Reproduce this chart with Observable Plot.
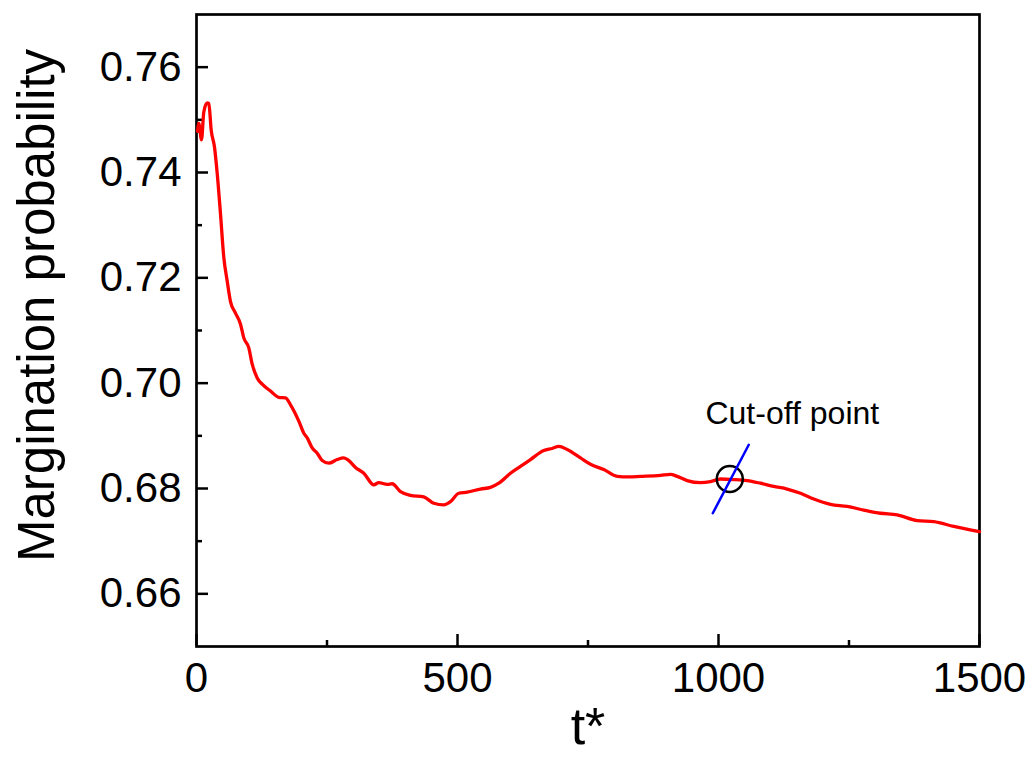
<!DOCTYPE html>
<html>
<head>
<meta charset="utf-8">
<script src="https://cdn.jsdelivr.net/npm/d3@7"></script>
<script src="https://cdn.jsdelivr.net/npm/@observablehq/plot@0.6"></script>
<style>
  html, body { margin: 0; padding: 0; background: #fff; }
  svg { display: block; }
</style>
</head>
<body>
<div id="chart"></div>
<script>
// ---- data ----
const tValues = [2, 4.4, 9.6, 14, 20.5, 23.6, 28.2, 34.5, 39.7, 46, 52.3, 58.8, 65.1, 74.7, 84.3, 90.6, 100.2, 106.7, 116.3, 125.9, 141.8, 157.7, 170.5, 180.1, 196, 205.6, 212.1, 221.6, 231.2, 240.8, 253.4, 269.5, 282.2, 291.8, 304.6, 320.5, 339.7, 349.2, 365.3, 374.9, 390.8, 410, 435.4, 454.6, 473.7, 486.6, 502.5, 518.6, 544.1, 563.2, 579.1, 601.5, 620.7, 639.8, 665.3, 681.4, 694, 710.2, 735.6, 754.8, 780.3, 805.9, 827.6, 850.6, 888.9, 908, 920.9, 940, 965.5, 984.7, 1003.8, 1029.3, 1054.9, 1080.4, 1105.9, 1131.6, 1157.1, 1182.6, 1214.5, 1246.5, 1278.3, 1310.3, 1342.3, 1380.6, 1412.4, 1450.7, 1500];
const probValues = [0.7478, 0.7493, 0.7462, 0.7515, 0.7532, 0.7531, 0.7480, 0.7448, 0.7398, 0.7321, 0.7239, 0.7194, 0.7155, 0.7133, 0.7112, 0.7086, 0.7067, 0.7036, 0.7010, 0.6998, 0.6985, 0.6973, 0.6972, 0.6959, 0.6928, 0.6905, 0.6896, 0.6877, 0.6867, 0.6853, 0.6848, 0.6855, 0.6858, 0.6853, 0.6840, 0.6829, 0.6807, 0.6811, 0.6808, 0.6809, 0.6794, 0.6787, 0.6784, 0.6772, 0.6769, 0.6775, 0.6791, 0.6793, 0.6799, 0.6802, 0.6810, 0.6829, 0.6842, 0.6855, 0.6872, 0.6876, 0.6880, 0.6874, 0.6858, 0.6846, 0.6836, 0.6823, 0.6822, 0.6823, 0.6825, 0.6827, 0.6823, 0.6815, 0.6811, 0.6813, 0.6818, 0.6817, 0.6815, 0.6810, 0.6804, 0.6799, 0.6791, 0.6780, 0.6770, 0.6766, 0.6759, 0.6753, 0.6750, 0.6739, 0.6737, 0.6728, 0.6718];

const cutoffT = [1021.6];
const cutoffProb = [0.6818];
const cutLineT = [989, 1058];
const cutLineProb = [0.6753, 0.6883];
const cutLabel = ["Cut-off point"];
const cutLabelT = [975];
const cutLabelProb = [0.6922];

const xMajorTicks = [0, 500, 1000, 1500];
const xMinorTicks = [250, 750, 1250];
const yMajorTicks = [0.66, 0.68, 0.70, 0.72, 0.74, 0.76];
const yMinorTicks = [0.67, 0.69, 0.71, 0.73, 0.75];

const xTitle = "t*";
const yTitle = "Margination probability";

// ---- tables built from the arrays ----
const series = tValues.map((t, i) => ({t, p: probValues[i]}));
const cutoff = cutoffT.map((t, i) => ({t, p: cutoffProb[i]}));
const cutLine = cutLineT.map((t, i) => ({t, p: cutLineProb[i]}));
const labels = cutLabel.map((s, i) => ({s, t: cutLabelT[i], p: cutLabelProb[i]}));

const chart = Plot.plot({
  width: 1034,
  height: 757,
  marginLeft: 196,
  marginRight: 55,
  marginTop: 14,
  marginBottom: 111,
  style: {fontFamily: "'Liberation Sans', Arial, sans-serif", background: "#fff", color: "#000"},
  x: {domain: [0, 1500]},
  y: {domain: [0.65, 0.77]},
  marks: [
    // inward tick marks
    Plot.axisY({ticks: yMajorTicks, tickSize: 12, dx: 12, tickFormat: () => "", strokeWidth: 2.5, label: null}),
    Plot.axisY({ticks: yMinorTicks, tickSize: 6, dx: 6, tickFormat: () => "", strokeWidth: 2.5, label: null}),
    Plot.axisX({ticks: xMajorTicks, tickSize: 12, dy: -12, tickFormat: () => "", strokeWidth: 2.5, label: null}),
    Plot.axisX({ticks: xMinorTicks, tickSize: 6, dy: -6, tickFormat: () => "", strokeWidth: 2.5, label: null}),
    // tick labels
    Plot.axisY({ticks: yMajorTicks, tickSize: 0, tickPadding: 15, tickFormat: d3.format(".2f"), fontSize: 42, label: null}),
    Plot.axisX({ticks: xMajorTicks, tickSize: 0, tickPadding: 16, tickFormat: d => String(d), fontSize: 42, label: null}),
    Plot.frame({stroke: "#000", strokeWidth: 2.7}),
    // axis titles
    Plot.text([yTitle], {frameAnchor: "left", dx: -159, dy: -25, rotate: -90, fontSize: 51, textAnchor: "middle", lineAnchor: "middle", text: d => d}),
    Plot.text([xTitle], {frameAnchor: "bottom", dy: 97, fontSize: 52, textAnchor: "middle", lineAnchor: "bottom", text: d => d}),
    // data
    Plot.line(series, {x: "t", y: "p", stroke: "#ff0000", strokeWidth: 3.3, curve: "monotone-x"}),
    Plot.dot(cutoff, {x: "t", y: "p", r: 13, stroke: "#000", strokeWidth: 2.5, fill: "none"}),
    Plot.line(cutLine, {x: "t", y: "p", stroke: "#0000ff", strokeWidth: 2.5}),
    Plot.text(labels, {x: "t", y: "p", text: "s", textAnchor: "start", lineAnchor: "bottom", fontSize: 32, fill: "#000"})
  ]
});
document.getElementById("chart").appendChild(chart);
</script>
</body>
</html>
